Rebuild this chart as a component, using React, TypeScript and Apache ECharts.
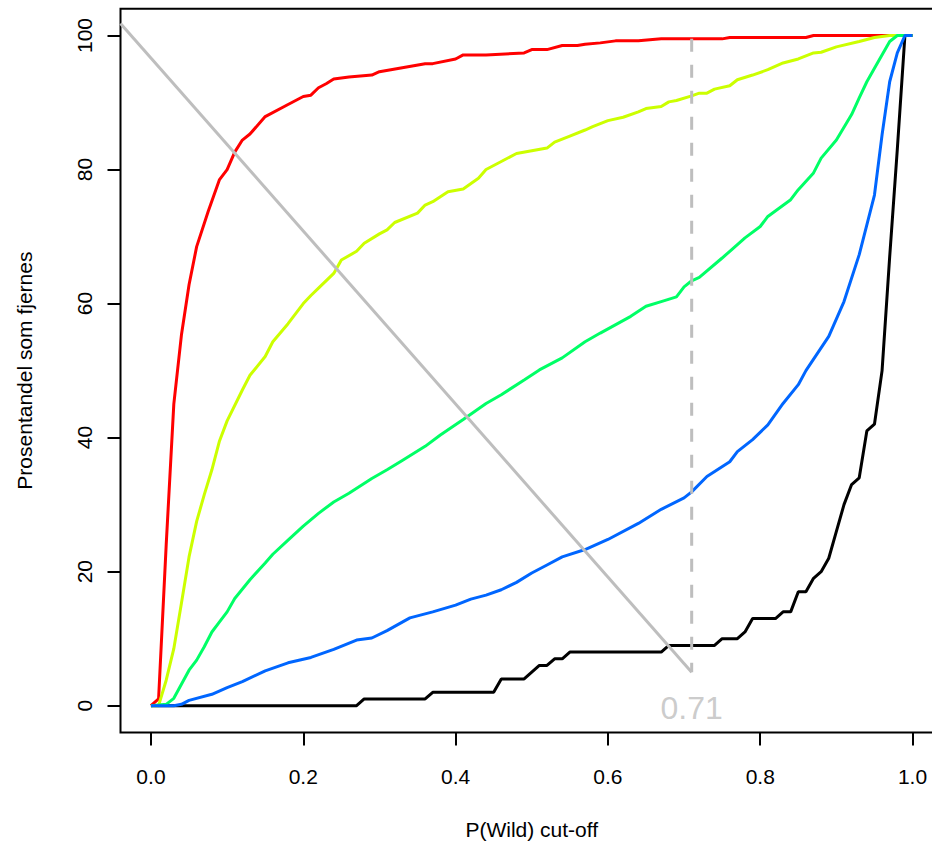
import React, { useEffect, useRef } from "react";
import * as echarts from "echarts";

// P(Wild) cut-off values and percentage removed for each curve
const redX = [0, 0.01, 0.02, 0.03, 0.04, 0.05, 0.06, 0.075, 0.09, 0.1, 0.11, 0.12, 0.13, 0.15, 0.18, 0.2, 0.21, 0.22, 0.23, 0.24, 0.26, 0.29, 0.3, 0.33, 0.36, 0.37, 0.4, 0.41, 0.44, 0.49, 0.5, 0.52, 0.54, 0.56, 0.57, 0.59, 0.61, 0.64, 0.67, 0.75, 0.76, 0.86, 0.87, 1.0];
const redY = [0, 1, 24, 45, 55.3, 62.8, 68.5, 73.7, 78.5, 80.0, 82.6, 84.4, 85.3, 87.9, 89.7, 90.9, 91.1, 92.2, 92.8, 93.5, 93.8, 94.1, 94.6, 95.2, 95.8, 95.8, 96.5, 97.1, 97.1, 97.4, 97.9, 97.9, 98.5, 98.5, 98.7, 98.9, 99.2, 99.2, 99.5, 99.5, 99.7, 99.7, 100, 100];

const yellowX = [0, 0.01, 0.02, 0.03, 0.04, 0.05, 0.06, 0.07, 0.08, 0.09, 0.1, 0.12, 0.13, 0.15, 0.16, 0.18, 0.2, 0.21, 0.22, 0.24, 0.25, 0.27, 0.28, 0.3, 0.31, 0.32, 0.35, 0.36, 0.37, 0.39, 0.41, 0.43, 0.44, 0.46, 0.48, 0.5, 0.52, 0.53, 0.55, 0.57, 0.58, 0.6, 0.62, 0.64, 0.65, 0.67, 0.68, 0.69, 0.71, 0.72, 0.73, 0.74, 0.76, 0.77, 0.79, 0.81, 0.83, 0.85, 0.87, 0.88, 0.9, 0.93, 0.95, 0.97, 1.0];
const yellowY = [0, 0, 3.8, 8.5, 15.3, 22.2, 27.5, 31.5, 35.2, 39.5, 42.5, 47.1, 49.3, 52.1, 54.3, 57.0, 60.0, 61.2, 62.3, 64.5, 66.5, 67.8, 69.0, 70.4, 71.0, 72.1, 73.5, 74.7, 75.2, 76.7, 77.1, 78.7, 80.0, 81.2, 82.4, 82.8, 83.2, 84.1, 85.0, 85.9, 86.4, 87.3, 87.8, 88.6, 89.1, 89.4, 90.1, 90.3, 91.0, 91.4, 91.4, 92.0, 92.5, 93.4, 94.1, 94.9, 95.9, 96.5, 97.4, 97.5, 98.3, 99.1, 99.7, 100, 100];

const greenX = [0, 0.02, 0.03, 0.04, 0.05, 0.06, 0.07, 0.08, 0.09, 0.1, 0.11, 0.13, 0.15, 0.16, 0.18, 0.2, 0.22, 0.24, 0.26, 0.29, 0.31, 0.33, 0.36, 0.38, 0.41, 0.44, 0.46, 0.49, 0.51, 0.54, 0.57, 0.59, 0.63, 0.65, 0.67, 0.69, 0.7, 0.71, 0.72, 0.75, 0.76, 0.78, 0.8, 0.81, 0.84, 0.85, 0.87, 0.88, 0.9, 0.92, 0.93, 0.94, 0.95, 0.97, 0.98, 1.0];
const greenY = [0, 0.2, 1.1, 3.2, 5.3, 6.8, 8.8, 11.0, 12.5, 14.0, 16.0, 18.8, 21.3, 22.6, 24.7, 26.8, 28.7, 30.4, 31.7, 33.9, 35.2, 36.6, 38.7, 40.4, 42.7, 45.1, 46.4, 48.6, 50.1, 51.9, 54.3, 55.6, 58.1, 59.6, 60.3, 61.0, 62.5, 63.4, 63.9, 66.8, 67.8, 69.8, 71.5, 73.0, 75.5, 77.0, 79.5, 81.7, 84.4, 88.2, 90.7, 93.1, 95.1, 99.1, 100, 100];

const blueX = [0, 0.03, 0.04, 0.05, 0.08, 0.1, 0.12, 0.15, 0.18, 0.21, 0.24, 0.27, 0.29, 0.31, 0.34, 0.37, 0.4, 0.42, 0.44, 0.46, 0.48, 0.5, 0.52, 0.54, 0.57, 0.6, 0.64, 0.67, 0.7, 0.71, 0.73, 0.76, 0.77, 0.79, 0.81, 0.83, 0.85, 0.86, 0.89, 0.91, 0.93, 0.95, 0.96, 0.97, 0.98, 0.99, 1.0];
const blueY = [0, 0, 0.2, 0.8, 1.7, 2.7, 3.6, 5.2, 6.4, 7.2, 8.4, 9.8, 10.1, 11.2, 13.1, 14.0, 15.0, 15.9, 16.5, 17.3, 18.4, 19.8, 21.0, 22.2, 23.3, 24.8, 27.2, 29.3, 31.0, 31.9, 34.2, 36.4, 37.9, 39.7, 41.9, 45.1, 47.9, 50.0, 55.1, 60.3, 67.3, 76.2, 85.2, 93.1, 97.4, 100, 100];

const blackX = [0, 0.27, 0.28, 0.36, 0.37, 0.45, 0.46, 0.49, 0.5, 0.51, 0.52, 0.53, 0.54, 0.55, 0.67, 0.68, 0.74, 0.75, 0.77, 0.78, 0.79, 0.82, 0.83, 0.84, 0.85, 0.86, 0.87, 0.88, 0.89, 0.9, 0.91, 0.92, 0.93, 0.94, 0.95, 0.96, 0.97, 0.98, 0.99, 1.0];
const blackY = [0, 0, 1, 1, 2, 2, 4, 4, 5, 6, 6, 7, 7, 8, 8, 9, 9, 10, 10, 11, 13, 13, 14, 14, 17, 17, 19, 20, 22, 26, 30, 33, 34, 41, 42, 50, 67, 83, 100, 100];

// gray reference lines
const diagX = [-0.04, 0.71];
const diagY = [101.8, 5];
const cutoff = 0.71;
const cutoffLineY = [99.5, 5];
const cutoffLabelY = -0.35;

const xTicks = [0, 0.2, 0.4, 0.6, 0.8, 1.0];
const yTicks = [0, 20, 40, 60, 80, 100];

const zip = (xs: number[], ys: number[]) => xs.map((x, i) => [x, ys[i]]);

const FONT = "'Liberation Sans', Arial, Helvetica, sans-serif";
const GREY = "#BEBEBE";

export default function App() {
  const ref = useRef<HTMLDivElement>(null);
  useEffect(() => {
    if (!ref.current) return;
    const chart = echarts.init(ref.current, null, { renderer: "svg" });
    const curve = (name: string, xs: number[], ys: number[], color: string) => ({
      name,
      type: "line",
      data: zip(xs, ys),
      symbol: "none",
      lineStyle: { color, width: 3 },
      silent: true,
    });
    chart.setOption({
      animation: false,
      backgroundColor: "#ffffff",
      grid: {
        left: 120.5,
        top: 8.7,
        width: 822.5,
        height: 723.8,
        show: true,
        borderColor: "#000",
        borderWidth: 2,
        backgroundColor: "transparent",
      },
      xAxis: {
        type: "value",
        min: -0.04,
        max: 1.04,
        name: "P(Wild) cut-off",
        nameLocation: "middle",
        nameGap: 86,
        nameTextStyle: { fontFamily: FONT, fontSize: 21, color: "#000" },
        axisLine: { show: false, onZero: false },
        splitLine: { show: false },
        axisTick: {
          show: true,
          length: 13,
          customValues: xTicks,
          lineStyle: { color: "#000", width: 2 },
        },
        axisLabel: {
          customValues: xTicks,
          formatter: (v: number) => v.toFixed(1),
          fontFamily: FONT,
          fontSize: 21,
          color: "#000",
          margin: 33,
        },
      },
      yAxis: {
        type: "value",
        min: -4,
        max: 104,
        name: "Prosentandel som fjernes",
        nameLocation: "middle",
        nameGap: 86,
        nameRotate: 90,
        nameTextStyle: { fontFamily: FONT, fontSize: 21, color: "#000" },
        axisLine: { show: false, onZero: false },
        splitLine: { show: false },
        axisTick: {
          show: true,
          length: 13,
          customValues: yTicks,
          lineStyle: { color: "#000", width: 2 },
        },
        axisLabel: {
          customValues: yTicks,
          rotate: 90,
          fontFamily: FONT,
          fontSize: 21,
          color: "#000",
          margin: 26,
        },
      },
      series: [
        curve("black", blackX, blackY, "#000000"),
        curve("red", redX, redY, "#FF0000"),
        curve("yellow", yellowX, yellowY, "#CCFF00"),
        curve("green", greenX, greenY, "#00FF66"),
        curve("blue", blueX, blueY, "#0066FF"),
        {
          type: "line",
          data: zip(diagX, diagY),
          symbol: "none",
          lineStyle: { color: GREY, width: 3 },
          silent: true,
        },
        {
          type: "line",
          data: zip([cutoff, cutoff], cutoffLineY),
          symbol: "none",
          lineStyle: { color: GREY, width: 3, type: [13, 13] },
          silent: true,
        },
        {
          type: "scatter",
          data: [[cutoff, cutoffLabelY]],
          symbolSize: 0,
          silent: true,
          label: {
            show: true,
            position: "inside",
            formatter: () => cutoff.toFixed(2),
            fontFamily: FONT,
            fontSize: 32,
            color: GREY,
          },
        },
      ],
    });
    return () => chart.dispose();
  }, []);
  return (
    <div style={{ position: "fixed", left: 0, top: 0, width: 932, height: 848, overflow: "hidden", background: "#fff" }}>
      <div ref={ref} style={{ width: 960, height: 848 }} />
    </div>
  );
}
